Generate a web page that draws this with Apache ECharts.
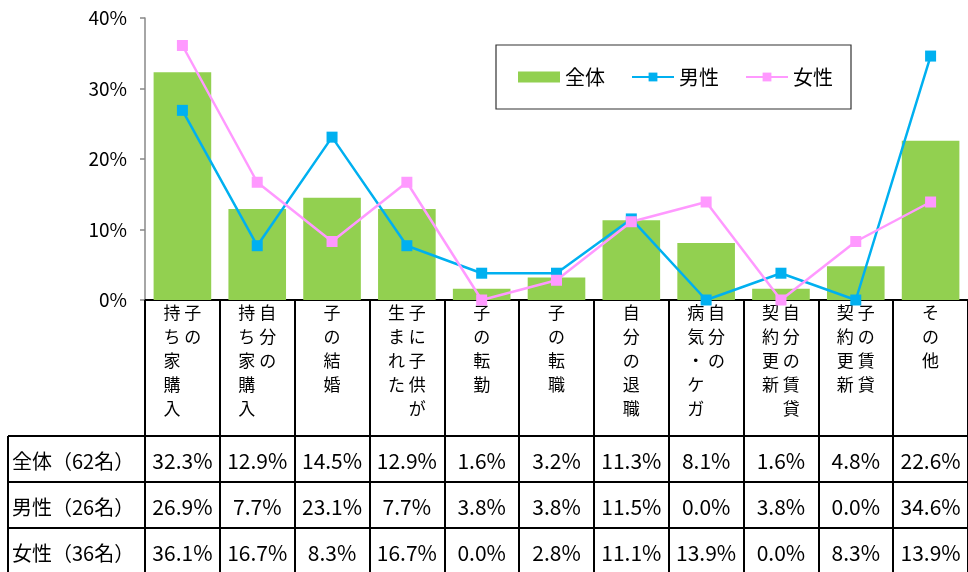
<!DOCTYPE html>
<html>
<head>
<meta charset="utf-8">
<script src="https://cdn.jsdelivr.net/npm/echarts@6/dist/echarts.min.js"></script>
<style>
  html, body { margin: 0; padding: 0; background: #fff; }
  #main { width: 968px; height: 572px; }
</style>
</head>
<body>
<div id="main"></div>
<script>
// categories (full names) and where each label is split into two vertical columns
var categories = ['子の持ち家購入', '自分の持ち家購入', '子の結婚', '子に子供が生まれた', '子の転勤', '子の転職',
	'自分の退職', '自分の病気・ケガ', '自分の賃貸契約更新', '子の賃貸契約更新', 'その他'];
var labelSplit = [2, 3, 0, 5, 0, 0, 0, 3, 5, 4, 0];

var seriesNames = ['全体', '男性', '女性'];
var rowNames = ['全体（62名）', '男性（26名）', '女性（36名）'];
var allData = [32.3, 12.9, 14.5, 12.9, 1.6, 3.2, 11.3, 8.1, 1.6, 4.8, 22.6];
var maleData = [26.9, 7.7, 23.1, 7.7, 3.8, 3.8, 11.5, 0.0, 3.8, 0.0, 34.6];
var femaleData = [36.1, 16.7, 8.3, 16.7, 0.0, 2.8, 11.1, 13.9, 0.0, 8.3, 13.9];

var yTicks = [0, 10, 20, 30, 40];

var FONT = '"Noto Sans CJK JP", "Noto Sans", sans-serif';

// vertical japanese label: right column first, left column second
function verticalLabel(name, split) {
	if (!split) return name.split('').join('\n');
	var right = name.slice(0, split), left = name.slice(split);
	var n = Math.max(right.length, left.length);
	var lines = [];
	for (var i = 0; i < n; i++) {
		lines.push((left[i] || '\u3000') + ' ' + (right[i] || '\u3000'));
	}
	return lines.join('\n');
}

var gridBottom = 300;
var rowCenters = [461, 507, 553];
var rowData = [allData, maleData, femaleData];

var xAxes = [{
	type: 'category',
	data: categories,
	axisLine: { lineStyle: { color: '#000', width: 2 } },
	axisTick: { show: true, interval: 0, length: 276, lineStyle: { color: '#000', width: 2 } },
	axisLabel: {
		interval: 0,
		margin: 1,
		fontFamily: FONT,
		fontSize: 17,
		lineHeight: 24,
		color: '#000',
		formatter: function (v, i) { return verticalLabel(v, labelSplit[i]); }
	}
}];
rowData.forEach(function (arr, r) {
	xAxes.push({
		type: 'category',
		data: categories,
		position: 'bottom',
		offset: rowCenters[r] - gridBottom,
		axisLine: { show: false },
		axisTick: { show: false },
		axisLabel: {
			interval: 0,
			margin: 0,
			verticalAlign: 'middle',
			fontFamily: FONT,
			fontSize: 21,
			color: '#000',
			formatter: function (v, i) { return arr[i].toFixed(1) + '%'; }
		}
	});
});

var graphics = [];
[436, 482, 528].forEach(function (y) {
	graphics.push({ type: 'line', shape: { x1: 8, y1: y, x2: 968, y2: y }, style: { stroke: '#000', lineWidth: 2 } });
});
graphics.push({ type: 'line', shape: { x1: 8, y1: 436, x2: 8, y2: 572 }, style: { stroke: '#000', lineWidth: 2 } });
rowNames.forEach(function (t, r) {
	graphics.push({
		type: 'text', left: 12, top: rowCenters[r] - 12,
		style: { text: t, fontFamily: FONT, fontSize: 20, fill: '#000', lineHeight: 24 }
	});
});

var myChart = echarts.init(document.getElementById('main'));
var option = {
	backgroundColor: '#fff',
	animation: false,
	textStyle: { fontFamily: FONT },
	grid: { left: 145, top: 18, width: 827, height: 282 },
	legend: {
		left: 496, top: 45,
		padding: [22, 18, 22, 22],
		borderColor: '#333', borderWidth: 1.2,
		itemWidth: 42, itemHeight: 11, itemGap: 26,
		textStyle: { fontFamily: FONT, fontSize: 20, color: '#000' },
		data: [{ name: seriesNames[0], icon: 'rect' }, seriesNames[1], seriesNames[2]]
	},
	xAxis: xAxes,
	yAxis: {
		type: 'value',
		min: yTicks[0], max: yTicks[yTicks.length - 1], interval: 10,
		axisLine: { show: true, lineStyle: { color: '#888', width: 1.5 } },
		axisTick: { show: true, length: 5, lineStyle: { color: '#888', width: 1.5 } },
		splitLine: { show: false },
		axisLabel: { margin: 18, fontFamily: FONT, fontSize: 19, color: '#000', formatter: '{value}%' }
	},
	graphic: graphics,
	series: [{
		name: seriesNames[0],
		type: 'bar',
		data: allData,
		barCategoryGap: '23%',
		itemStyle: { color: '#92D050' },
		z: 1
	}, {
		name: seriesNames[1],
		type: 'line',
		data: maleData,
		symbol: 'rect', symbolSize: 11,
		lineStyle: { color: '#00B0F0', width: 2.5 },
		itemStyle: { color: '#00B0F0' },
		z: 3
	}, {
		name: seriesNames[2],
		type: 'line',
		data: femaleData,
		symbol: 'rect', symbolSize: 11,
		lineStyle: { color: '#FF99FF', width: 2.5 },
		itemStyle: { color: '#FF99FF' },
		z: 3
	}]
};
myChart.setOption(option);
</script>
</body>
</html>
